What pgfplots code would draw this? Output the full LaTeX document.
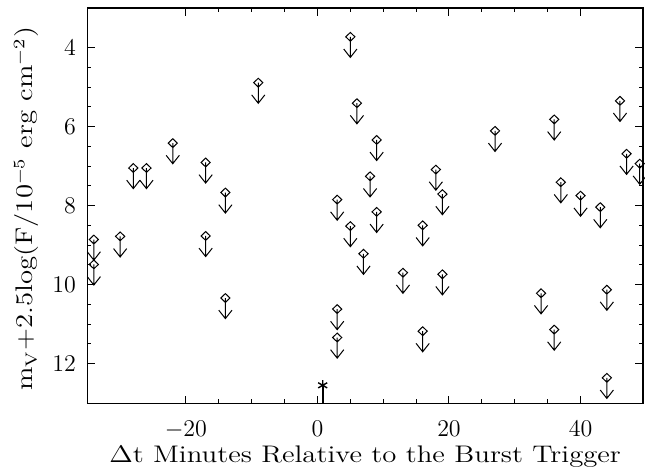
\documentclass[border=0pt]{standalone}
\usepackage{pgfplots}
\usepackage{graphicx}
\pgfplotsset{compat=1.18}
\pgfdeclareplotmark{ulim}{%
  \pgfpathmoveto{\pgfpoint{0pt}{2.2pt}}%
  \pgfpathlineto{\pgfpoint{2.3pt}{0pt}}%
  \pgfpathlineto{\pgfpoint{0pt}{-2.2pt}}%
  \pgfpathlineto{\pgfpoint{-2.3pt}{0pt}}%
  \pgfpathclose
  \pgfpathmoveto{\pgfpoint{0pt}{0pt}}%
  \pgfpathlineto{\pgfpoint{0pt}{-10.3pt}}%
  \pgfpathmoveto{\pgfpoint{-3.3pt}{-6.1pt}}%
  \pgfpathlineto{\pgfpoint{0pt}{-10.3pt}}%
  \pgfpathlineto{\pgfpoint{3.3pt}{-6.1pt}}%
  \pgfusepathqstroke
}
\begin{document}
\begin{tikzpicture}
\useasboundingbox (-43.65pt,-35.3pt) rectangle (279pt,201.65pt);
\begin{axis}[
  at={(0pt,0pt)}, anchor=south west,
  scale only axis, width=278pt, height=197.65pt,
  xmin=-35, xmax=49.5, ymin=3, ymax=13, y dir=reverse,
  xtick={-20,0,20,40}, ytick={4,6,8,10,12},
  minor x tick num=3, minor y tick num=3,
  tick align=inside, major tick length=3.8pt, minor tick length=2pt,
  axis line style={line width=0.6pt},
  every tick/.style={black, line width=0.5pt},
  tick label style={font=\fontsize{12.5}{15}\selectfont},
  label style={font=\fontsize{12}{14}\selectfont},
  xticklabel style={anchor=base, yshift=-16.85pt},
  yticklabel style={anchor=east, xshift=-2.15pt},
  xlabel={\scalebox{1.2}[1]{$\Delta$t Minutes Relative to the Burst Trigger}},
  ylabel={\scalebox{1.2}[1]{m$_{\mathrm{V}}$+2.5log(F/10$^{-5}$ erg cm$^{-2}$)}},
  xlabel style={at={(axis description cs:0.5,-0.151)}, anchor=base},
  ylabel style={at={(axis description cs:-0.0977,0.4915)}, anchor=base, rotate=0},
]
\addplot[only marks, mark=ulim, mark options={line width=0.5pt}] coordinates {
(-34,8.86) (-34,9.49) (-30,8.78) (-28,7.05) (-26,7.05) (-22,6.42)
(-17,6.91) (-14,7.67) (-9,4.89) (-17,8.77) (-14,10.34)
(5,3.73) (6,5.41) (3,7.85) (5,8.52) (8,7.26) (9,6.34) (9,8.16)
(7,9.22) (3,10.62) (3,11.34) (13,9.70) (16,8.50) (16,11.18)
(18,7.09) (19,7.71) (19,9.74) (27,6.11) (34,10.22) (36,5.82)
(36,11.14) (37,7.41) (40,7.75) (43,8.04) (44,10.13) (44,12.36)
(46,5.35) (47,6.69) (49,6.94)
};
\addplot[black, line width=0.8pt] coordinates {(0.8,12.55) (0.8,13)};
\addplot[only marks, mark=asterisk, mark size=2.6pt, mark options={line width=0.7pt}] coordinates {(0.8,12.55)};
\end{axis}
\end{tikzpicture}
\end{document}
